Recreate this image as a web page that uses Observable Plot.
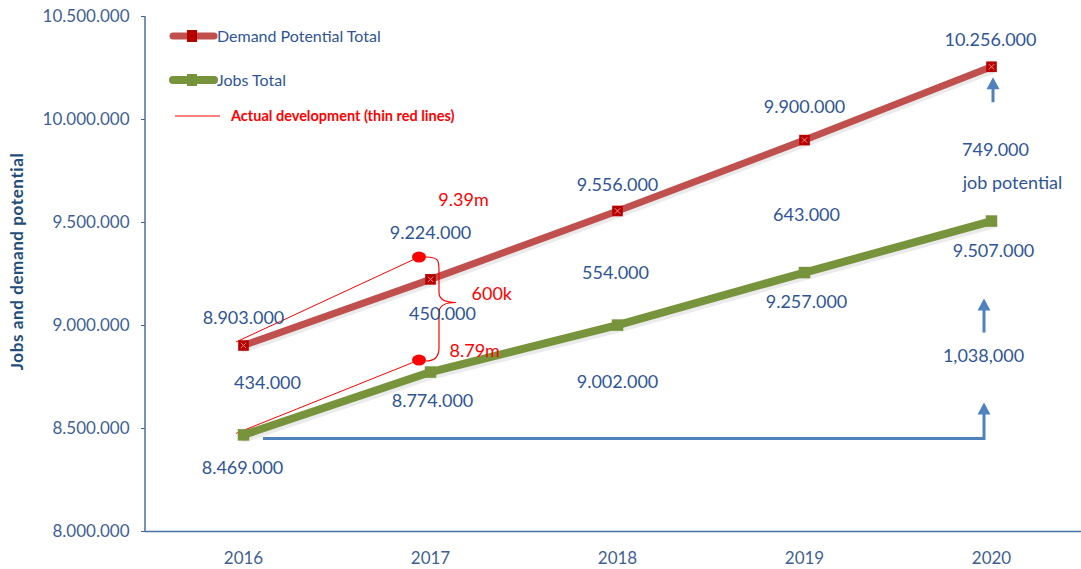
<!DOCTYPE html>
<html>
<head>
<meta charset="utf-8">
<script src="https://cdn.jsdelivr.net/npm/d3@7"></script>
<script src="https://cdn.jsdelivr.net/npm/@observablehq/plot@0.6"></script>
<style>
  body { margin: 0; background: #fff; font-family: Lato, sans-serif; }
  #chart { width: 1081px; height: 569px; }
</style>
</head>
<body>
<div id="chart"></div>
<script>
// ---- data ----
const years = ["2016", "2017", "2018", "2019", "2020"];
const demand = [8903000, 9224000, 9556000, 9900000, 10256000];
const jobs = [8469000, 8774000, 9002000, 9257000, 9507000];
const gaps = [434000, 450000, 554000, 643000, 749000];
const yTicks = [8000000, 8500000, 9000000, 9500000, 10000000, 10500000];
const seriesNames = ["Demand Potential Total", "Jobs Total", "Actual development (thin red lines)"];
// actual development (thin red lines), drawn end points at 2017
const actualYear = "2017";
const actualDemandPos = 9330000;
const actualJobsPos = 8830000;
const actualLabels = ["9.39m", "8.79m"];
const braceLabel = "600k";
const potentialJobs = 1038000;
const potentialText = "job potential";
const yTitle = "Jobs and demand potential";

// ---- helpers ----
const fmt = v => d3.format(",")(v).replace(/,/g, ".");
const demandRows = years.map((year, i) => ({year, v: demand[i]}));
const jobsRows = years.map((year, i) => ({year, v: jobs[i]}));

const RED = "#C0504D", GREEN = "#77933C", BLUE = "#4F81BD";
const LBL = "#2F5597", TICK = "#3F5F95", AX = "#4A6FA5";

const demandDy = [-27, -46, -26, -33, -27];
const demandDx = [0, 0, 0, 0, -1];
const jobsDy = [33, 29, 57, 30, 30];
const jobsDx = [-1, 2, 0, 2, 2];
const gapDx = [24, 12, -2, 2, 4];
const gapDy = [-7, -11, 5, 9, 6];

const labelMarks = [];
years.forEach((year, i) => {
  labelMarks.push(Plot.text([demandRows[i]], {x: "year", y: "v", text: d => fmt(d.v), dy: demandDy[i], dx: demandDx[i], fill: LBL, fontSize: 18}));
  labelMarks.push(Plot.text([jobsRows[i]], {x: "year", y: "v", text: d => fmt(d.v), dy: jobsDy[i], dx: jobsDx[i], fill: LBL, fontSize: 18}));
  labelMarks.push(Plot.text([{year, v: (demand[i] + jobs[i]) / 2, t: fmt(gaps[i])}], {x: "year", y: "v", text: "t", dy: gapDy[i], dx: gapDx[i], fill: LBL, fontSize: 18}));
});
labelMarks.push(Plot.text([{year: "2020", v: (demand[4] + jobs[4]) / 2}], {x: "year", y: "v", text: () => potentialText, dy: 39, dx: 21, fill: LBL, fontSize: 18}));
labelMarks.push(Plot.text([{year: "2020", v: (jobs[0] + jobs[4]) / 2}], {x: "year", y: "v", text: () => d3.format(",")(potentialJobs), dy: 28, dx: -8, fill: LBL, fontSize: 18}));
// red annotations
labelMarks.push(Plot.text([{year: actualYear, v: actualDemandPos}], {x: "year", y: "v", text: () => actualLabels[0], dy: -57, dx: 33, fill: "#FF0000", fontSize: 18}));
labelMarks.push(Plot.text([{year: actualYear, v: actualJobsPos}], {x: "year", y: "v", text: () => actualLabels[1], dy: -9, dx: 19, textAnchor: "start", fill: "#FF0000", fontSize: 18}));
labelMarks.push(Plot.text([{year: actualYear, v: (actualDemandPos + actualJobsPos) / 2}], {x: "year", y: "v", text: () => braceLabel, dy: -15, dx: 41, textAnchor: "start", fill: "#FF0000", fontSize: 18}));

// axis lines + title
function frameLines(index, {x, y}, values, dims) {
  const g = d3.create("svg:g");
  const ml = dims.marginLeft;
  g.append("line").attr("x1", ml).attr("x2", ml).attr("y1", y(yTicks[yTicks.length - 1])).attr("y2", y(yTicks[0]))
    .attr("stroke", AX).attr("stroke-width", 1.5);
  g.append("text").attr("transform", `translate(23,${(y(yTicks[0]) + y(yTicks[yTicks.length - 1])) / 2 - 12}) rotate(-90)`)
    .attr("text-anchor", "middle").attr("font-weight", "bold").attr("font-size", 17).attr("letter-spacing", 0.6)
    .attr("fill", "#1F4E79").text(yTitle);
  return g.node();
}

// thin red lines, dots and brace
function actualMark(index, {x, y}) {
  const g = d3.create("svg:g");
  const x0 = x(years[0]);
  const xa = x(actualYear) - 11;
  const yd = y(actualDemandPos), yj = y(actualJobsPos);
  g.append("line").attr("x1", x0 - 7).attr("y1", y(demand[0]) - 3).attr("x2", xa).attr("y2", yd).attr("stroke", "#FF0000").attr("stroke-width", 1);
  g.append("line").attr("x1", x0 - 7).attr("y1", y(jobs[0]) - 1).attr("x2", xa).attr("y2", yj).attr("stroke", "#FF0000").attr("stroke-width", 1);
  const bx = xa + 7, vx = xa + 20, px = xa + 37, pm = (yd + yj) / 2 - 6;
  const p = `M${bx},${yd} C${vx},${yd} ${vx},${yd + 4} ${vx},${yd + 14} L${vx},${pm - 10} C${vx},${pm - 3} ${vx + 6},${pm} ${px},${pm}`
    + ` C${vx + 6},${pm} ${vx},${pm + 3} ${vx},${pm + 10} L${vx},${yj - 12} C${vx},${yj - 3} ${vx - 4},${yj + 1} ${bx},${yj + 1}`;
  g.append("path").attr("d", p).attr("fill", "none").attr("stroke", "#FF0000").attr("stroke-width", 1.2);
  g.append("ellipse").attr("cx", xa).attr("cy", yd).attr("rx", 7).attr("ry", 5.5).attr("fill", "#FF0000");
  g.append("ellipse").attr("cx", xa).attr("cy", yj).attr("rx", 7).attr("ry", 5.5).attr("fill", "#FF0000");
  return g.node();
}

// blue arrows
function arrowMark(index, {x, y}) {
  const g = d3.create("svg:g").attr("fill", BLUE).attr("stroke", BLUE);
  const head = (hx, hy) => g.append("path").attr("d", `M${hx},${hy} L${hx - 6.5},${hy + 12} L${hx + 6.5},${hy + 12} Z`).attr("stroke", "none");
  const x20 = x("2020");
  // upper arrow
  const t1 = y(demand[4]) + 11;
  g.append("line").attr("x1", x20 + 2).attr("x2", x20 + 2).attr("y1", t1 + 10).attr("y2", t1 + 25).attr("stroke-width", 3);
  head(x20 + 2, t1);
  // middle arrow
  const t2 = y(jobs[4]) + 78;
  g.append("line").attr("x1", x20 - 7).attr("x2", x20 - 7).attr("y1", t2 + 10).attr("y2", t2 + 34).attr("stroke-width", 3);
  head(x20 - 7, t2);
  // bent arrow
  const yb = y(jobs[0]) + 4, t3 = y(jobs[0]) - 32;
  g.append("path").attr("d", `M${x(years[0]) + 20},${yb} L${x20 - 7},${yb} L${x20 - 7},${t3 + 10}`).attr("fill", "none").attr("stroke-width", 3);
  head(x20 - 7, t3);
  return g.node();
}

// legend inside the frame
function legendMark(index, scales, values, dims) {
  const ml = dims.marginLeft;
  const g = d3.create("svg:g").attr("font-family", "Lato, sans-serif").attr("text-anchor", "start");
  const rows = [
    {y: 36, color: RED, w: 7, marker: "#B80000", text: seriesNames[0]},
    {y: 80, color: GREEN, w: 8, marker: GREEN, text: seriesNames[1]},
  ];
  rows.forEach(r => {
    g.append("line").attr("x1", ml + 28).attr("x2", ml + 69).attr("y1", r.y).attr("y2", r.y)
      .attr("stroke", r.color).attr("stroke-width", r.w).attr("stroke-linecap", "round");
    g.append("rect").attr("x", ml + 42).attr("y", r.y - 6).attr("width", 10).attr("height", 12).attr("fill", r.marker);
    g.append("text").attr("x", ml + 72).attr("y", r.y).attr("dy", "0.35em").attr("text-anchor", "start").attr("font-size", 16).attr("fill", "#2F5597").text(r.text);
  });
  g.append("line").attr("x1", ml + 30).attr("x2", ml + 75).attr("y1", 116).attr("y2", 116).attr("stroke", "#FF0000").attr("stroke-width", 1);
  g.append("text").attr("x", ml + 86).attr("y", 116).attr("dy", "0.35em").attr("text-anchor", "start").attr("font-size", 14.5).attr("font-weight", "bold").attr("fill", "#FF0000").text(seriesNames[2]);
  return g.node();
}

const chart = Plot.plot({
  width: 1081,
  height: 569,
  marginLeft: 145,
  marginRight: 0,
  marginTop: 16,
  marginBottom: 38,
  style: {fontFamily: "Lato, sans-serif", background: "#fff", overflow: "visible"},
  x: {type: "point", domain: years, range: [241, 992], padding: 0},
  y: {domain: [yTicks[0], yTicks[yTicks.length - 1]]},
  marks: [
    Plot.axisY({ticks: yTicks, tickFormat: fmt, tickSize: 4, tickPadding: 12, fontSize: 17, color: TICK, label: null}),
    Plot.axisX({tickSize: 0, tickPadding: 20, fontSize: 17, color: TICK, label: null}),
    Plot.ruleY([yTicks[0]], {stroke: AX, strokeWidth: 1.5}),
    frameLines,
    arrowMark,
    Plot.line(demandRows, {x: "year", y: "v", stroke: "#000", strokeOpacity: 0.08, strokeWidth: 8, dy: 3, dx: 1}),
    Plot.line(jobsRows, {x: "year", y: "v", stroke: "#000", strokeOpacity: 0.08, strokeWidth: 9, dy: 3, dx: 1}),
    Plot.line(demandRows, {x: "year", y: "v", stroke: RED, strokeWidth: 7}),
    Plot.line(jobsRows, {x: "year", y: "v", stroke: GREEN, strokeWidth: 8}),
    actualMark,
    Plot.dot(demandRows, {x: "year", y: "v", symbol: "square", r: 6, fill: "#B80000"}),
    Plot.dot(demandRows, {x: "year", y: "v", symbol: "times", r: 2.5, stroke: "#F28B8B", strokeWidth: 1}),
    Plot.dot(jobsRows, {x: "year", y: "v", symbol: "square", r: 6.5, fill: GREEN}),
    ...labelMarks,
    legendMark
  ]
});
document.getElementById("chart").appendChild(chart);
</script>
</body>
</html>
